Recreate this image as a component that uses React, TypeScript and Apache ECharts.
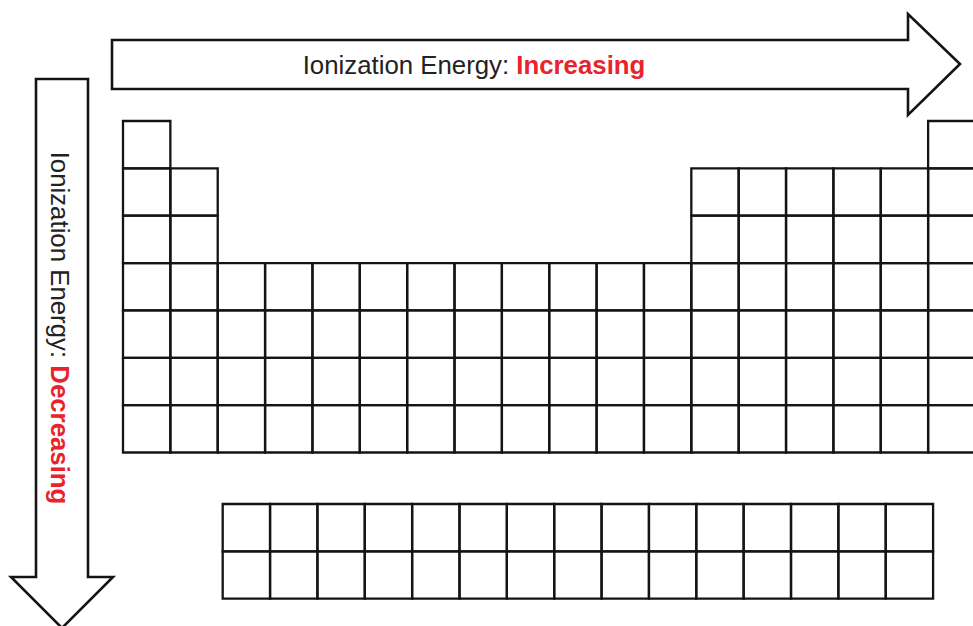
import React, { useEffect, useRef } from "react";
import * as echarts from "echarts";

// Main table: for each period (row), the groups (columns, 1..18) that have a cell
const periods = ["1", "2", "3", "4", "5", "6", "7"];
const mainTableGroups: number[][] = [
  [1, 18],
  [1, 2, 13, 14, 15, 16, 17, 18],
  [1, 2, 13, 14, 15, 16, 17, 18],
  [1, 2, 3, 4, 5, 6, 7, 8, 9, 10, 11, 12, 13, 14, 15, 16, 17, 18],
  [1, 2, 3, 4, 5, 6, 7, 8, 9, 10, 11, 12, 13, 14, 15, 16, 17, 18],
  [1, 2, 3, 4, 5, 6, 7, 8, 9, 10, 11, 12, 13, 14, 15, 16, 17, 18],
  [1, 2, 3, 4, 5, 6, 7, 8, 9, 10, 11, 12, 13, 14, 15, 16, 17, 18],
];

// f-block rows (lanthanides, actinides): 15 cells each
const fBlockNames = ["Lanthanides", "Actinides"];
const fBlockCells: number[][] = [
  [1, 2, 3, 4, 5, 6, 7, 8, 9, 10, 11, 12, 13, 14, 15],
  [1, 2, 3, 4, 5, 6, 7, 8, 9, 10, 11, 12, 13, 14, 15],
];

// Arrow captions
const topLabel = "Ionization Energy: ";
const topTrend = "Increasing";
const sideLabel = "Ionization Energy: ";
const sideTrend = "Decreasing";

// layout constants (not data)
const UNIT = 47.36;
const F_COL_OFFSET = 2.105;
const F_ROW_OFFSET = 8.087;

const mainData: number[][] = [];
mainTableGroups.forEach((groups, r) => {
  groups.forEach((g) => mainData.push([g - 1, r]));
});
const fData: number[][] = [];
fBlockCells.forEach((cells, r) => {
  cells.forEach((c) => fData.push([F_COL_OFFSET + c - 1, F_ROW_OFFSET + r]));
});

const LINE = "#141414";
const RED = "#e8232b";
const FONT = "'Liberation Sans', Arial, Helvetica, sans-serif";
const FS = 25.8;

function renderCell(params: any, api: any) {
  const c = api.value(0);
  const r = api.value(1);
  const p0 = api.coord([c, r]);
  const p1 = api.coord([c + 1, r + 1]);
  return {
    type: "rect",
    shape: { x: p0[0], y: p0[1], width: p1[0] - p0[0], height: p1[1] - p0[1] },
    style: { fill: "rgba(255,255,255,0)", stroke: LINE, lineWidth: 2.3 },
  };
}

export default function App() {
  const ref = useRef<HTMLDivElement>(null);
  useEffect(() => {
    if (!ref.current) return;
    const chart = echarts.init(ref.current, undefined, { renderer: "svg" });
    const richStyle = {
      a: { fontSize: FS, fill: "#222222", fontFamily: FONT },
      b: { fontSize: FS, fill: RED, fontWeight: "bold", fontFamily: FONT },
    };
    chart.setOption({
      animation: false,
      backgroundColor: "#ffffff",
      grid: {
        left: 123,
        top: 121,
        width: 18 * UNIT,
        height: 10.1 * UNIT,
        containLabel: false,
        outerBoundsMode: "none",
      },
      xAxis: {
        type: "value",
        min: 0,
        max: 18,
        show: false,
      },
      yAxis: {
        type: "value",
        min: 0,
        max: 10.1,
        inverse: true,
        show: false,
      },
      series: [
        {
          name: "Periods " + periods.join(","),
          type: "custom",
          renderItem: renderCell,
          data: mainData,
          clip: false,
        },
        {
          name: fBlockNames.join(" / "),
          type: "custom",
          renderItem: renderCell,
          data: fData,
          clip: false,
        },
      ],
      graphic: [
        {
          type: "polygon",
          shape: {
            points: [
              [112, 40],
              [908, 40],
              [908, 14],
              [960, 64],
              [908, 115],
              [908, 89],
              [112, 89],
            ],
          },
          style: { fill: "#ffffff", stroke: LINE, lineWidth: 2.6, lineJoin: "miter" },
        },
        {
          type: "polygon",
          shape: {
            points: [
              [36, 79],
              [88, 79],
              [88, 577],
              [113, 577],
              [62, 628],
              [11, 577],
              [36, 577],
            ],
          },
          style: { fill: "#ffffff", stroke: LINE, lineWidth: 2.6, lineJoin: "miter" },
        },
        {
          type: "text",
          x: 474,
          y: 65,
          style: {
            text: "{a|" + topLabel + "}{b|" + topTrend + "}",
            rich: richStyle,
            align: "center",
            verticalAlign: "middle",
            font: FS + "px " + FONT,
          },
        },
        {
          type: "text",
          x: 60,
          y: 328,
          rotation: -Math.PI / 2,
          style: {
            text: "{a|" + sideLabel + "}{b|" + sideTrend + "}",
            rich: richStyle,
            align: "center",
            verticalAlign: "middle",
            font: FS + "px " + FONT,
          },
        },
      ],
    });
    return () => chart.dispose();
  }, []);
  return (
    <div
      ref={ref}
      style={{ position: "fixed", left: 0, top: 0, width: 973, height: 626, background: "#fff" }}
    />
  );
}
